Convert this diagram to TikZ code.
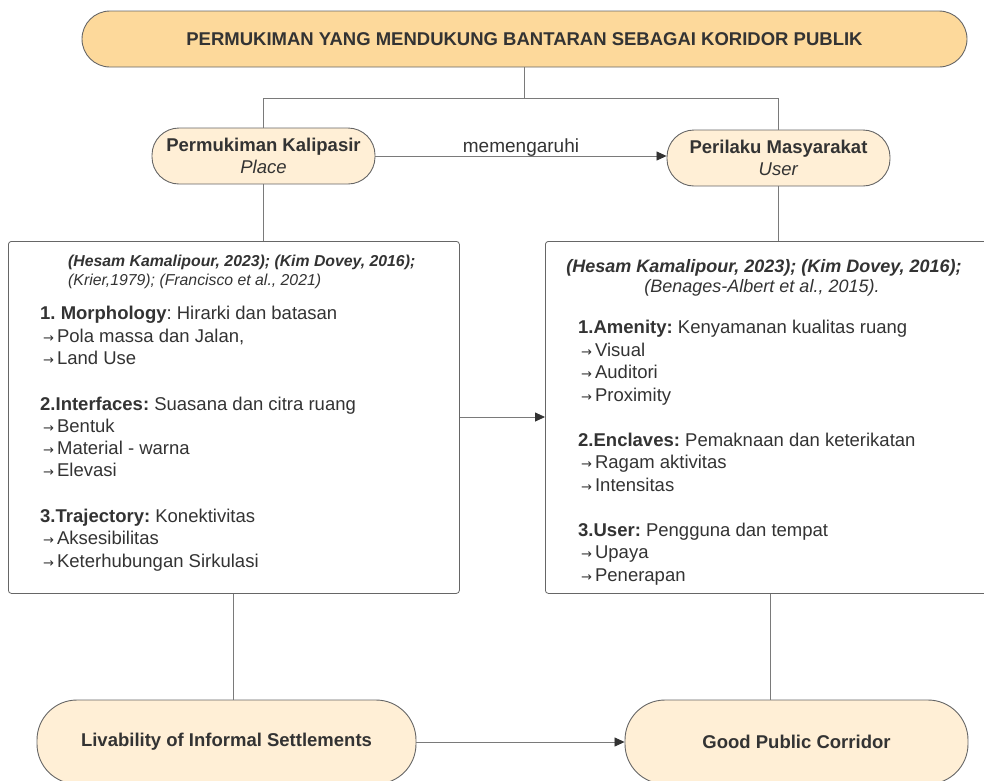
\documentclass[tikz,border=0pt]{standalone}
\usepackage{fontspec}
\setmainfont{Liberation Sans}
\newfontfamily\arrowfont{DejaVu Sans}
\usetikzlibrary{arrows.meta}
\frenchspacing
\definecolor{txt}{HTML}{333333}
\definecolor{edge}{HTML}{666666}
\definecolor{wire}{HTML}{7A7A7A}
\definecolor{titlefill}{HTML}{FDD99B}
\definecolor{pillfill}{HTML}{FFEFD6}
\tikzset{
  pill/.style={draw=edge, line width=0.9pt, text=txt, inner sep=0pt, align=center},
  toppill/.style={pill, fill=titlefill, rounded corners=28pt},
  midpill/.style={pill, fill=pillfill, rounded corners=27pt},
  botpill/.style={pill, fill=pillfill, rounded corners=40pt},
  panel/.style={draw=edge, line width=0.8pt, fill=white, rounded corners=3pt},
  wireline/.style={draw=wire, line width=0.8pt},
  flow/.style={wireline, -{Triangle[length=10pt,width=9pt]}, arrows={[color=txt]}},
  ln/.style={anchor=base west, inner sep=0pt, text=txt, font=\fontsize{18.5}{22}\selectfont},
}
\newcommand\arr{{\arrowfont\fontsize{13}{13}\selectfont →}\hspace{3pt}}
\begin{document}
\begin{tikzpicture}[x=1pt,y=-1pt]
\useasboundingbox (0,0) rectangle (984,780);
\begin{scope}
\clip (0,0) rectangle (984,780);

% title
\node[toppill, minimum width=885pt, minimum height=56pt, font=\bfseries\fontsize{18.5}{20}\selectfont] (title) at (524.5,39) {PERMUKIMAN YANG MENDUKUNG BANTARAN SEBAGAI KORIDOR PUBLIK};

% second row
\node[midpill, minimum width=223pt, minimum height=56pt, font=\fontsize{18.5}{22}\selectfont] (place) at (263.5,156) {\textbf{Permukiman Kalipasir}\\[0pt]\textit{Place}};
\node[midpill, minimum width=223pt, minimum height=56pt, font=\fontsize{18.5}{22}\selectfont] (user) at (778.5,158) {\textbf{Perilaku Masyarakat}\\[0pt]\textit{User}};

% branching from the title
\coordinate (split) at (524,98);
\draw[wireline] (title.south -| split) -- (split);
\draw[wireline] (split) -- (263,98) -- (263,128);
\draw[wireline] (split) -- (778,98) -- (778,130);

\draw[flow] (place.east) -- (user.west |- place.east) node[midway, anchor=base, yshift=4pt, inner sep=0pt, text=txt, font=\fontsize{19}{20}\selectfont] (infl) {memengaruhi};

% panels
\node[panel, minimum width=451pt, minimum height=352pt, anchor=north west] (lbox) at (8,241) {};
\node[panel, minimum width=450pt, minimum height=352pt, anchor=north west] (rbox) at (545,241) {};

\draw[wireline] (place.south) -- (lbox.north -| place.south);
\draw[wireline] (user.south) -- (rbox.north -| user.south);
\draw[flow] (lbox.east |- 0,417) -- (rbox.west |- 0,417);

% left panel text
\node[anchor=base west, inner sep=0pt, text=txt, font=\bfseries\itshape\fontsize{15.8}{18}\selectfont] (lc1) at (68,266) {(Hesam Kamalipour, 2023); (Kim Dovey, 2016);};
\node[anchor=base west, inner sep=0pt, text=txt, font=\itshape\fontsize{15.8}{18}\selectfont] (lc2) at (68,285) {(Krier,1979); (Francisco et al., 2021)};
\node[ln] (l1) at (40,319) {\textbf{1. Morphology}: Hirarki dan batasan};
\node[ln] (l2) at (43,342) {\arr Pola massa dan Jalan,};
\node[ln] (l3) at (43,364) {\arr Land Use};
\node[ln] (l4) at (40,410) {\textbf{2.Interfaces:} Suasana dan citra ruang};
\node[ln] (l5) at (43,432) {\arr Bentuk};
\node[ln] (l6) at (43,454) {\arr Material - warna};
\node[ln] (l7) at (43,476) {\arr Elevasi};
\node[ln] (l8) at (40,522) {\textbf{3.Trajectory:} Konektivitas};
\node[ln] (l9) at (43,544) {\arr Aksesibilitas};
\node[ln] (l10) at (43,567) {\arr Keterhubungan Sirkulasi};

% right panel text
\node[anchor=base, inner sep=0pt, text=txt, font=\bfseries\itshape\fontsize{18}{20}\selectfont] (rc1) at (764,272) {(Hesam Kamalipour, 2023); (Kim Dovey, 2016);};
\node[anchor=base, inner sep=0pt, text=txt, font=\itshape\fontsize{18}{20}\selectfont] (rc2) at (762,292) {(Benages-Albert et al., 2015).};
\node[ln] (r1) at (578,333) {\textbf{1.Amenity:} Kenyamanan kualitas ruang};
\node[ln] (r2) at (581,356) {\arr Visual};
\node[ln] (r3) at (581,378) {\arr Auditori};
\node[ln] (r4) at (581,401) {\arr Proximity};
\node[ln] (r5) at (578,446) {\textbf{2.Enclaves:} Pemaknaan dan keterikatan};
\node[ln] (r6) at (581,468) {\arr Ragam aktivitas};
\node[ln] (r7) at (581,491) {\arr Intensitas};
\node[ln] (r8) at (578,536) {\textbf{3.User:} Pengguna dan tempat};
\node[ln] (r9) at (581,558) {\arr Upaya};
\node[ln] (r10) at (581,581) {\arr Penerapan};

% bottom row
\node[botpill, minimum width=379pt, minimum height=84pt, font=\bfseries\fontsize{18.5}{20}\selectfont] (live) at (226.5,742) {Livability of Informal Settlements};
\node[botpill, minimum width=343pt, minimum height=84pt, font=\bfseries\fontsize{18.5}{20}\selectfont] (good) at (796.5,742) {Good Public Corridor};

\draw[wireline] (lbox.south -| 233,0) -- (live.north -| 233,0);
\draw[wireline] (rbox.south -| 770,0) -- (good.north -| 770,0);
\draw[flow] (live.east) -- (good.west);
\end{scope}
\end{tikzpicture}
\end{document}
